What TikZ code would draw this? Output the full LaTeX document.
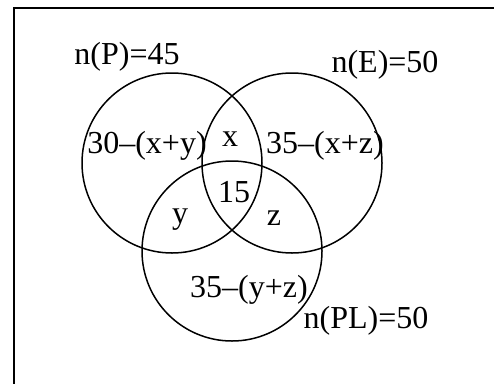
\documentclass[tikz,border=0pt]{standalone}
\usepackage{fontspec}
\setmainfont{Liberation Serif}
\usetikzlibrary{positioning}

\begin{document}
\begin{tikzpicture}[x=1pt, y=-1pt, font=\fontsize{32}{34}\selectfont]
    \useasboundingbox (0,0) rectangle (494,383);
    % Frame
    \begin{scope}
        \clip (0,0) rectangle (494,383);
        \draw[line width=1.6pt] (14,420) -- (14,8) -- (520,8);
    \end{scope}

    % Sets
    \node[draw, circle, line width=1.5pt, minimum size=180pt, inner sep=0pt] (P) at (172,163) {};
    \node[draw, circle, line width=1.5pt, minimum size=180pt, inner sep=0pt] (E) at (292,163) {};
    \node[draw, circle, line width=1.5pt, minimum size=180pt, inner sep=0pt] (PL) at (232,251) {};

    % Set sizes
    \node[anchor=base, inner sep=0pt] (nP) at (127,64) {n(P)=45};
    \node[anchor=base, inner sep=0pt] (nE) at (385,72) {n(E)=50};
    \node[anchor=base, inner sep=0pt] (nPL) at (366,328) {n(PL)=50};

    % Regions
    \node[anchor=base, inner sep=0pt] (onlyP) at (147,153) {30–(x+y)};
    \node[anchor=base, inner sep=0pt] (onlyE) at (325,153) {35–(x+z)};
    \node[anchor=base, inner sep=0pt] (onlyPL) at (249,297) {35–(y+z)};
    \node[anchor=base, inner sep=0pt] (PE) at (230,146) {x};
    \node[anchor=base, inner sep=0pt] (PPL) at (180,223) {y};
    \node[anchor=base, inner sep=0pt] (EPL) at (274,225) {z};
    \node[anchor=base, inner sep=0pt] (all) at (234,202) {15};
\end{tikzpicture}
\end{document}
